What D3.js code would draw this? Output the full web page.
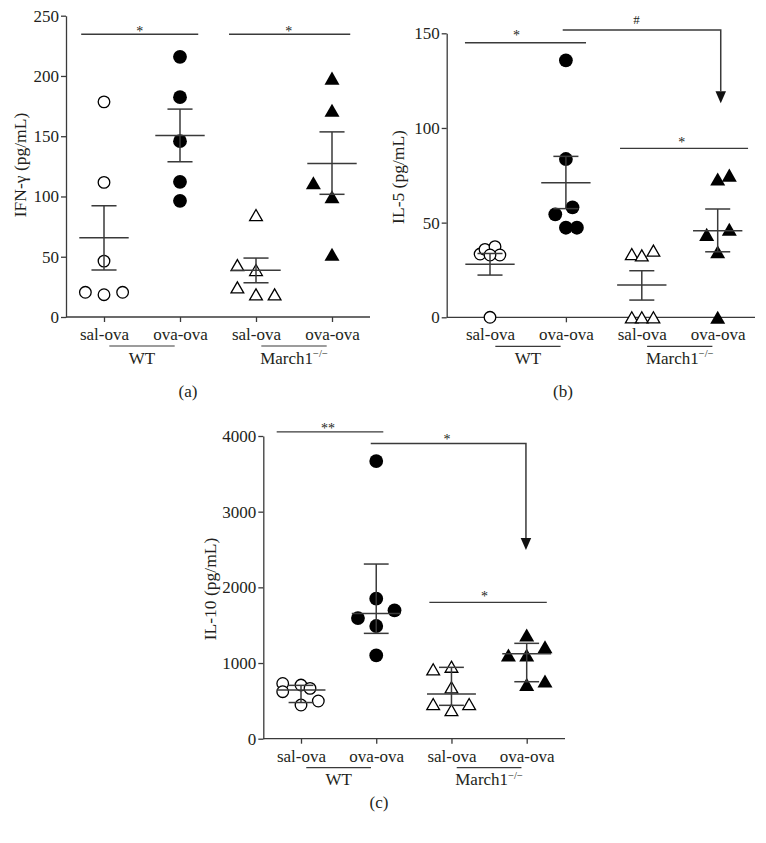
<!DOCTYPE html>
<html><head><meta charset="utf-8">
<script src="https://cdn.jsdelivr.net/npm/d3@7"></script>
<style>
body{margin:0;background:#fff}
svg{display:block}
text{font-family:"Liberation Serif","Times New Roman",serif;fill:#231f20}
</style>
</head><body>
<svg id="chart" width="766" height="843"></svg>
<script>
// ---------- shared labels ----------
const categories = ["sal-ova", "ova-ova", "sal-ova", "ova-ova"];
const groupNames = ["WT", "March1"];
const groupSup = ["", "\u2212/\u2212"];
const groupCats = [[0, 1], [2, 3]];
const markerKinds = ["openCircle", "filledCircle", "openTriangle", "filledTriangle"];

// ---------- (a) IFN-γ ----------
const ifnTicks = [0, 50, 100, 150, 200, 250];
const ifnSalWT = [178.5, 111.7, 46.4, 20.5, 18.5, 20.5];
const ifnOvaWT = [215.9, 182.4, 145.9, 112.2, 96.4];
const ifnSalKO = [84.6, 43, 39, 24.6, 18.8, 18.8];
const ifnOvaKO = [198.2, 171.6, 111.4, 99.8, 52];
const ifnCenter = [65.8, 150.7, 38.7, 127.4];
const ifnLower = [39, 128.8, 28.4, 101.8];
const ifnUpper = [92.3, 172.5, 48.9, 153.6];
const ifnJitter = [[0, 0, 0, -0.245, 0, 0.245], [0, 0, 0, 0, 0], [0, -0.245, 0, -0.245, 0, 0.245], [0, 0, -0.245, 0, 0]];
const ifnSig = [
  {x0: -0.3, x1: 1.24, y: 234.6, label: "*", lx: 0.47, ly: 239.4},
  {x0: 1.645, x1: 3.24, y: 234.6, label: "*", lx: 2.43, ly: 239.4}
];

// ---------- (b) IL-5 ----------
const il5Ticks = [0, 50, 100, 150];
const il5SalWT = [33.4, 35.9, 37.3, 32.9, 32.9, 0];
const il5OvaWT = [135.7, 83.6, 58.1, 54.4, 47.3, 47.3];
const il5SalKO = [33.4, 32.7, 35.2, 0, 0, 0];
const il5OvaKO = [73, 75.1, 43.8, 46.5, 34.6, 0];
const il5Center = [28, 71.1, 17.1, 45.7];
const il5Lower = [22.3, 57.4, 9.1, 34.6];
const il5Upper = [33.7, 85, 24.6, 57.2];
const il5Jitter = [[-0.13, -0.066, 0.066, 0.13, 0, 0], [0, 0, 0.087, -0.14, 0, 0.145], [-0.132, 0, 0.153, -0.132, 0, 0.153], [0, 0.153, -0.145, 0.153, 0, 0]];
const il5Sig = [
  {x0: -0.33, x1: 1.265, y: 145, label: "*", lx: 0.35, ly: 150.3},
  {x0: 0.958, x1: 3.04, y: 151.7, yTip: 113, label: "#", lx: 1.93, ly: 157.5},
  {x0: 1.713, x1: 3.40, y: 89.2, label: "*", lx: 2.525, ly: 94.1}
];

// ---------- (c) IL-10 ----------
const il10Ticks = [0, 1000, 2000, 3000, 4000];
const il10SalWT = [730, 709, 665, 621, 445, 498];
const il10OvaWT = [3668, 1850, 1696, 1594, 1489, 1101];
const il10SalKO = [917, 951, 679, 458, 379, 458];
const il10OvaKO = [1370, 1215, 1105, 1105, 718, 762];
const il10Center = [645, 1656, 590, 1123];
const il10Lower = [478, 1392, 441, 753];
const il10Upper = [705, 2308, 943, 1260];
const il10Jitter = [[-0.243, 0, 0.12, -0.243, 0, 0.23], [0, 0, 0.243, -0.243, 0, 0], [-0.243, 0, 0, -0.243, 0, 0.235], [0, 0.243, -0.243, 0, 0, 0.243]];
const il10Sig = [
  {x0: -0.323, x1: 1.094, y: 4055, label: "**", lx: 0.36, ly: 4144},
  {x0: 0.927, x1: 2.99, y: 3902, yTip: 2493, label: "*", lx: 1.94, ly: 3999},
  {x0: 1.706, x1: 3.267, y: 1802, label: "*", lx: 2.44, ly: 1925}
];

// ---------- layout ----------
const panels = [
  {letter: "(a)", yLabel: "IFN-\u03b3 (pg/mL)", ticks: ifnTicks, values: [ifnSalWT, ifnOvaWT, ifnSalKO, ifnOvaKO],
   center: ifnCenter, lower: ifnLower, upper: ifnUpper, jitter: ifnJitter, sig: ifnSig,
   axisX: 66, xEnd: 370, cat0: 104, cat3: 332, y0: 317, yTop: 15.7, yLabelX: 20, yLabelY: 165, letterX: 188, letterY: 397},
  {letter: "(b)", yLabel: "IL-5 (pg/mL)", ticks: il5Ticks, values: [il5SalWT, il5OvaWT, il5SalKO, il5OvaKO],
   center: il5Center, lower: il5Lower, upper: il5Upper, jitter: il5Jitter, sig: il5Sig,
   axisX: 446.7, xEnd: 755, cat0: 490, cat3: 717.7, y0: 317.3, yTop: 33.3, yLabelX: 398, yLabelY: 177, letterX: 563, letterY: 397},
  {letter: "(c)", yLabel: "IL-10 (pg/mL)", ticks: il10Ticks, values: [il10SalWT, il10OvaWT, il10SalKO, il10OvaKO],
   center: il10Center, lower: il10Lower, upper: il10Upper, jitter: il10Jitter, sig: il10Sig,
   axisX: 263.3, xEnd: 565, cat0: 301, cat3: 526.7, y0: 738.7, yTop: 436, yLabelX: 210, yLabelY: 589, letterX: 379, letterY: 808}
];

const LINE = "#3a3a3a";
const FS = 17;

const triBox = {
  draw(ctx, size) {
    const w = Math.sqrt(size) * 1.5, h = w * 0.87;
    ctx.moveTo(0, -h / 2); ctx.lineTo(w / 2, h / 2); ctx.lineTo(-w / 2, h / 2); ctx.closePath();
  }
};
const markerPath = {
  openCircle: d3.symbol(d3.symbolCircle, Math.PI * 5.8 * 5.8)(),
  filledCircle: d3.symbol(d3.symbolCircle, Math.PI * 6.9 * 6.9)(),
  openTriangle: d3.symbol(triBox, 72)(),
  filledTriangle: d3.symbol(triBox, 100)()
};

const svg = d3.select("#chart");
svg.append("rect").attr("width", 766).attr("height", 843).attr("fill", "#fff");

panels.forEach(p => {
  const g = svg.append("g");
  const x = d3.scalePoint().domain([0, 1, 2, 3]).range([p.cat0, p.cat3]);
  const step = x.step();
  const xp = v => p.cat0 + v * step; // fractional category position
  const yMax = p.ticks[p.ticks.length - 1];
  const y = d3.scaleLinear().domain([0, yMax]).range([p.y0, p.yTop]);

  // y axis
  const ya = g.append("g").attr("transform", `translate(${p.axisX},0)`)
    .call(d3.axisLeft(y).tickValues(p.ticks).tickSize(5).tickSizeOuter(0).tickPadding(2).tickFormat(d3.format("d")));
  ya.selectAll("path,line").attr("stroke", LINE).attr("stroke-width", 1.3);
  ya.selectAll("text").attr("font-size", FS).attr("font-family", null).attr("fill", "#231f20");

  // x axis
  const xa = g.append("g").attr("transform", `translate(0,${p.y0})`)
    .call(d3.axisBottom(x).tickSize(5).tickPadding(6).tickFormat(i => categories[i]));
  xa.select(".domain").remove();
  xa.selectAll("line").attr("stroke", LINE).attr("stroke-width", 1.3);
  xa.selectAll("text").attr("font-size", FS).attr("font-family", null).attr("fill", "#231f20");
  g.append("line").attr("x1", p.axisX).attr("x2", p.xEnd).attr("y1", p.y0).attr("y2", p.y0)
    .attr("stroke", LINE).attr("stroke-width", 1.3);

  // group labels
  groupNames.forEach((name, gi) => {
    const mid = (x(groupCats[gi][0]) + x(groupCats[gi][1])) / 2;
    g.append("line").attr("x1", mid - 0.43 * step).attr("x2", mid + 0.43 * step)
      .attr("y1", p.y0 + 29).attr("y2", p.y0 + 29).attr("stroke", LINE).attr("stroke-width", 1.2);
    const t = g.append("text").attr("x", mid).attr("y", p.y0 + 46.5).attr("text-anchor", "middle").attr("font-size", FS);
    t.append("tspan").text(name);
    if (groupSup[gi]) t.append("tspan").attr("dy", -6.5).attr("font-size", 10.5).text(groupSup[gi]);
  });

  // y label
  g.append("text").attr("transform", `translate(${p.yLabelX},${p.yLabelY}) rotate(-90)`)
    .attr("text-anchor", "middle").attr("dominant-baseline", "central").attr("font-size", 17.5).text(p.yLabel);

  // panel letter
  g.append("text").attr("x", p.letterX).attr("y", p.letterY).attr("text-anchor", "middle").attr("font-size", FS).text(p.letter);

  // points
  p.values.forEach((vals, ci) => {
    const kind = markerKinds[ci];
    const open = kind.startsWith("open");
    g.append("g").selectAll("path").data(vals).join("path")
      .attr("d", markerPath[kind])
      .attr("transform", (d, i) => `translate(${x(ci) + p.jitter[ci][i] * step},${y(d)})`)
      .attr("fill", open ? "#fff" : "#000")
      .attr("stroke", "#000")
      .attr("stroke-width", open ? 1.3 : 0);
  });

  // central line and error bars
  const eb = g.append("g").attr("stroke", LINE).attr("stroke-width", 1.5);
  p.center.forEach((c, ci) => {
    const cx = x(ci);
    eb.append("line").attr("x1", cx - 0.325 * step).attr("x2", cx + 0.325 * step).attr("y1", y(c)).attr("y2", y(c));
    eb.append("line").attr("x1", cx).attr("x2", cx).attr("y1", y(p.lower[ci])).attr("y2", y(p.upper[ci]));
    [p.lower[ci], p.upper[ci]].forEach(v =>
      eb.append("line").attr("x1", cx - 0.165 * step).attr("x2", cx + 0.165 * step).attr("y1", y(v)).attr("y2", y(v)));
  });

  // significance annotations
  p.sig.forEach(s => {
    const sg = g.append("g");
    if (s.yTip === undefined) {
      sg.append("line").attr("x1", xp(s.x0)).attr("x2", xp(s.x1)).attr("y1", y(s.y)).attr("y2", y(s.y))
        .attr("stroke", LINE).attr("stroke-width", 1.3);
    } else {
      const tip = y(s.yTip), headH = 12, headW = 10.5;
      sg.append("path").attr("d", d3.line()([[xp(s.x0), y(s.y)], [xp(s.x1), y(s.y)], [xp(s.x1), tip - headH]]))
        .attr("fill", "none").attr("stroke", LINE).attr("stroke-width", 1.5);
      sg.append("path").attr("d", d3.line()([[xp(s.x1) - headW / 2, tip - headH], [xp(s.x1) + headW / 2, tip - headH], [xp(s.x1), tip]]) + "Z")
        .attr("fill", "#111");
    }
    sg.append("text").attr("x", xp(s.lx)).attr("y", y(s.ly) + (s.label === "#" ? 5 : 7.5))
      .attr("text-anchor", "middle").attr("font-size", s.label === "#" ? 13 : 14).attr("fill", "#444").text(s.label);
  });
});
</script>
</body></html>
